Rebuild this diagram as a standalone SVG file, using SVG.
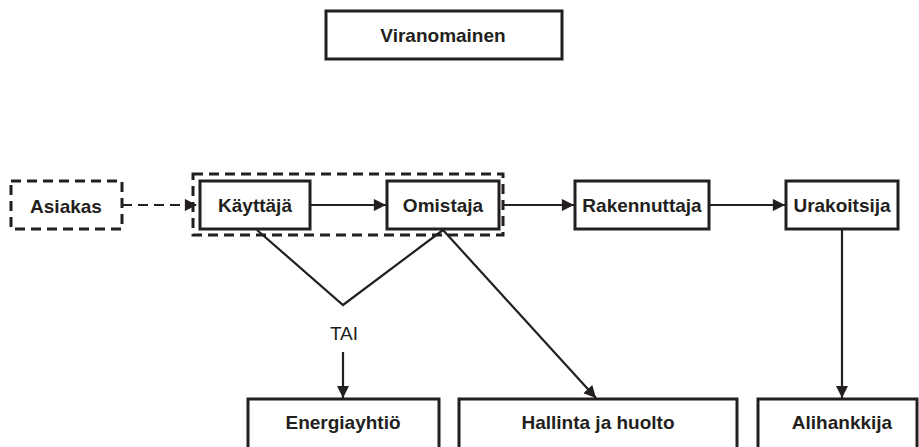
<svg xmlns="http://www.w3.org/2000/svg" width="919" height="447" viewBox="0 0 919 447">
  <style>
    .box { fill: #ffffff; stroke: #231f20; stroke-width: 3; }
    .dbox { fill: none; stroke: #231f20; stroke-width: 3; stroke-dasharray: 10 6; }
    .lbl { font-family: "Liberation Sans", Arial, sans-serif; font-size: 19px; font-weight: bold; fill: #231f20; text-anchor: middle; dominant-baseline: central; }
    .note { font-family: "Liberation Sans", Arial, sans-serif; font-size: 19px; fill: #231f20; text-anchor: middle; dominant-baseline: central; }
    .edge { fill: none; stroke: #231f20; stroke-width: 2.2; }
    .dedge { fill: none; stroke: #231f20; stroke-width: 2.2; stroke-dasharray: 10 6; }
  </style>
  <defs>
    <marker id="arrow" viewBox="0 0 10 10" refX="10" refY="5" markerWidth="6" markerHeight="5.5" orient="auto" markerUnits="strokeWidth">
      <path d="M0,0 L10,5 L0,10 z" fill="#231f20"/>
    </marker>
  </defs>

  <rect width="919" height="447" fill="#ffffff"/>

  <g id="connectors">
    <line class="dedge" x1="122" y1="205" x2="197" y2="205" marker-end="url(#arrow)"/>
    <line class="edge" x1="310" y1="205" x2="386" y2="205" marker-end="url(#arrow)"/>
    <line class="edge" x1="503" y1="205" x2="574" y2="205" marker-end="url(#arrow)"/>
    <line class="edge" x1="709" y1="205" x2="785" y2="205" marker-end="url(#arrow)"/>
    <polyline class="edge" points="257,230 343,305 443,230"/>
    <line class="edge" x1="443" y1="230" x2="596" y2="398" marker-end="url(#arrow)"/>
    <line class="edge" x1="343" y1="352" x2="343" y2="398" marker-end="url(#arrow)"/>
    <line class="edge" x1="842" y1="229" x2="842" y2="398" marker-end="url(#arrow)"/>
    <text class="note" x="344" y="333">TAI</text>
  </g>

  <g id="viranomainen">
    <rect class="box" x="326" y="11" width="236" height="48"/>
    <text class="lbl" x="443" y="35">Viranomainen</text>
  </g>

  <g id="asiakas">
    <rect class="dbox" x="11" y="181" width="111" height="48"/>
    <text class="lbl" x="66" y="206">Asiakas</text>
  </g>

  <g id="kayttaja-omistaja">
    <rect class="dbox" x="193" y="174" width="310" height="61"/>
  </g>

  <g id="kayttaja">
    <rect class="box" x="200" y="181" width="110" height="48"/>
    <text class="lbl" x="255" y="205">Käyttäjä</text>
  </g>

  <g id="omistaja">
    <rect class="box" x="387" y="181" width="112" height="48"/>
    <text class="lbl" x="443" y="205">Omistaja</text>
  </g>

  <g id="rakennuttaja">
    <rect class="box" x="575" y="181" width="134" height="48"/>
    <text class="lbl" x="642" y="205">Rakennuttaja</text>
  </g>

  <g id="urakoitsija">
    <rect class="box" x="786" y="181" width="112" height="48"/>
    <text class="lbl" x="842" y="205">Urakoitsija</text>
  </g>

  <g id="energiayhtio">
    <rect class="box" x="248" y="399" width="191" height="60"/>
    <text class="lbl" x="343" y="422">Energiayhtiö</text>
  </g>

  <g id="hallinta">
    <rect class="box" x="459" y="399" width="278" height="60"/>
    <text class="lbl" x="598" y="422">Hallinta ja huolto</text>
  </g>

  <g id="alihankkija">
    <rect class="box" x="758" y="399" width="159" height="60"/>
    <text class="lbl" x="842" y="422">Alihankkija</text>
  </g>
</svg>
